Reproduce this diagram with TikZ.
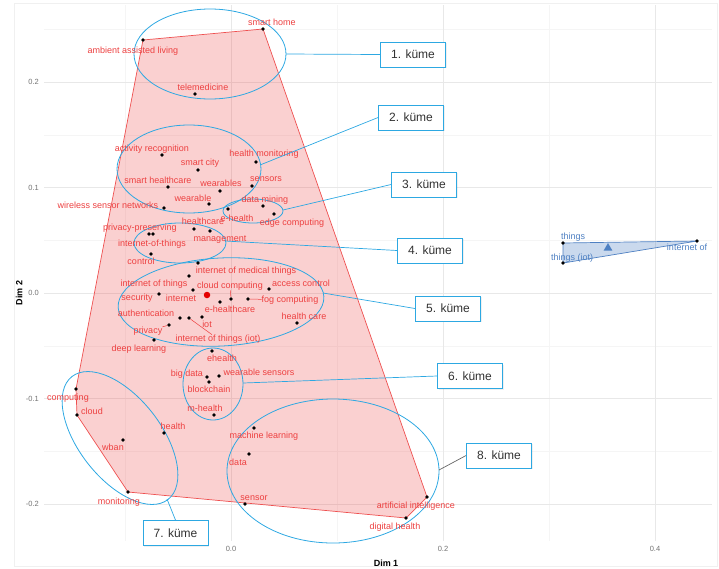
\documentclass[tikz,border=0pt]{standalone}
\usepackage{fontspec}
\setmainfont{Liberation Sans}
\usetikzlibrary{shapes.geometric,shadows}

\definecolor{labred}{RGB}{236,64,64}
\definecolor{hullred}{RGB}{238,80,80}
\definecolor{grpblue}{RGB}{78,128,194}
\definecolor{kumeblue}{RGB}{45,168,226}
\definecolor{kumetext}{RGB}{50,50,50}

\begin{document}
\begin{tikzpicture}[x=1pt, y=-1pt,
  pt/.style={circle, fill=black, inner sep=0pt, minimum size=3.6pt},
  lab/.style={text=labred, font=\fontsize{9}{9}\selectfont, inner sep=0pt, text height=6.5pt, text depth=1.9pt},
  blab/.style={lab, text=grpblue},
  kume/.style={draw=kumeblue, fill=white, line width=0.9pt, minimum width=65pt, minimum height=25pt,
    font=\fontsize{12}{12}\selectfont, text=kumetext, inner sep=0pt,
    drop shadow={opacity=0.12, shadow xshift=1pt, shadow yshift=-1pt}},
  ell/.style={draw=kumeblue, line width=0.8pt},
  link/.style={draw=kumeblue, line width=0.7pt},
  lead/.style={draw=labred, line width=0.5pt},
  gmajor/.style={draw=black!9, line width=0.6pt},
  gminor/.style={draw=black!4, line width=0.5pt},
  tick/.style={font=\fontsize{7.5}{7.5}\selectfont, text=black!55, inner sep=0pt}
]
\useasboundingbox (0,0) rectangle (719,568);
\draw[black!6, line width=0.4pt] (14,3) rectangle (717,566);

% grid
\foreach \x in {125,337,549} \draw[gminor] (\x,5) -- (\x,541);
\foreach \y in {29.25,134.75,240.25,345.75,451.25} \draw[gminor] (44,\y) -- (712,\y);
\foreach \x in {231,443,655} \draw[gmajor] (\x,5) -- (\x,541);
\foreach \y in {82,187.5,293,398.5,504} \draw[gmajor] (44,\y) -- (712,\y);

% axes
\foreach \y/\t in {82/0.2,187.5/0.1,293/0.0,398.5/-0.1,504/-0.2}
  \node[tick, anchor=east] (ty\t) at (39,\y) {\t};
\foreach \x/\t in {231/0.0,443/0.2,655/0.4}
  \node[tick] (tx\t) at (\x,549) {\t};
\node[font=\bfseries\fontsize{9}{9}\selectfont] (xname) at (386,563) {Dim 1};
\node[font=\bfseries\fontsize{9}{9}\selectfont, rotate=90] (yname) at (19,293) {Dim 2};

% hulls
\filldraw[fill=hullred, fill opacity=0.27, draw=hullred, line width=0.7pt]
  (143,40) -- (263,29) -- (427,497) -- (406,518) -- (128,492) -- (77,415) -- (76,389) -- cycle;
\filldraw[fill=grpblue, fill opacity=0.3, draw=grpblue, line width=0.7pt]
  (563,243) -- (697,241) -- (563,263) -- cycle;

% cluster ellipses
\draw[ell] (210,54) ellipse (76 and 45);
\draw[ell] (189,169) ellipse (72 and 44);
\draw[ell] (253,211) ellipse (30 and 12);
\draw[ell] (180,243) ellipse (46 and 20);
\draw[ell, rotate around={3:(221,302)}] (221,302) ellipse (103 and 44);
\draw[ell] (213,384) ellipse (30 and 36);
\draw[ell, rotate around={-52:(120,438)}] (120,438) ellipse (78 and 41);
\draw[ell] (333,471) ellipse (106 and 72);

% 1. kume
\node[pt] (smarthome) at (263,29) {};
\node[pt] (aal) at (143,40) {};
\node[pt] (telemed) at (195,94) {};
\node[lab] (smarthome-l) at (272,23) {smart home};
\node[lab] (aal-l) at (133,51) {ambient assisted living};
\node[lab] (telemed-l) at (203,88) {telemedicine};

% 2. kume
\node[pt] (actrec) at (162,155) {};
\node[pt] (smartcity) at (198,170) {};
\node[pt] (healthmon) at (256,162) {};
\node[pt] (smarthc) at (168,187) {};
\node[pt] (wearables) at (220,191) {};
\node[pt] (sensors) at (252,186) {};
\node[pt] (wearable) at (209,204) {};
\node[pt] (wsn) at (164,208) {};
\node[lab] (actrec-l) at (152,149) {activity recognition};
\node[lab] (smartcity-l) at (200,163) {smart city};
\node[lab] (healthmon-l) at (264,154) {health monitoring};
\node[lab] (smarthc-l) at (158,181) {smart healthcare};
\node[lab] (wearables-l) at (221,184) {wearables};
\node[lab] (sensors-l) at (266,179) {sensors};
\node[lab] (wearable-l) at (193,199) {wearable};
\node[lab] (wsn-l) at (108,206) {wireless sensor networks};

% 3. kume
\node[pt] (datamining) at (263,206) {};
\node[pt] (ehealth) at (228,209) {};
\node[pt] (edge) at (274,214) {};
\node[lab] (datamining-l) at (265,200) {data mining};
\node[lab] (ehealth-l) at (237,219) {e-health};
\node[lab] (edge-l) at (292,223) {edge computing};

% 4. kume
\node[pt] (healthcare) at (194,229) {};
\node[pt] (management) at (210,231) {};
\node[pt] (privpres) at (149,234) {};
\node[pt] (iotdash) at (153,234) {};
\node[pt] (control) at (151,254) {};
\node[lab] (healthcare-l) at (203,222) {healthcare};
\node[lab] (management-l) at (220,239) {management};
\node[lab] (privpres-l) at (140,228) {privacy-preserving};
\node[lab] (iotdash-l) at (152,244) {internet-of-things};
\node[lab] (control-l) at (141,262) {control};

% 5. kume
\node[pt] (iomt) at (198,263) {};
\node[pt] (iotsp) at (189,276) {};
\node[pt] (internet) at (193,290) {};
\node[pt] (cloudcomp) at (231,299) {};
\node[pt] (ehc) at (220,302) {};
\node[pt] (fog) at (248,299) {};
\node[pt] (access) at (269,289) {};
\node[pt] (security) at (159,294) {};
\node[pt] (auth) at (180,318) {};
\node[pt] (iotiot) at (189,318) {};
\node[pt] (iot) at (202,317) {};
\node[pt] (privacy) at (169,325) {};
\node[pt] (healthcare2) at (297,323) {};
\node[pt] (deep) at (154,340) {};
\node[circle, fill=red!90!black, inner sep=0pt, minimum size=6.5pt] (mean) at (207,295) {};
\node[lab] (iomt-l) at (246,271) {internet of medical things};
\node[lab] (iotsp-l) at (154,284) {internet of things};
\node[lab] (internet-l) at (181,299) {internet};
\node[lab] (cloudcomp-l) at (230,286) {cloud computing};
\node[lab] (ehc-l) at (230,310) {e-healthcare};
\node[lab] (fog-l) at (290,300) {fog computing};
\node[lab] (access-l) at (301,284) {access control};
\node[lab] (security-l) at (137,298) {security};
\node[lab] (auth-l) at (146,314) {authentication};
\node[lab] (iotiot-l) at (218,339) {internet of things (iot)};
\node[lab] (iot-l) at (207,325) {iot};
\node[lab] (privacy-l) at (148,331) {privacy};
\node[lab] (healthcare2-l) at (304,317) {health care};
\node[lab] (deep-l) at (139,349) {deep learning};
\draw[lead] (cloudcomp-l) -- (cloudcomp);
\draw[lead] (fog-l) -- (fog);
\draw[lead] (iotiot-l) -- (iotiot);
\draw[lead] (privacy-l) -- (privacy);

% 6. kume
\node[pt] (ehealth2) at (212,351) {};
\node[pt] (bigdata) at (207,377) {};
\node[pt] (blockchain) at (209,382) {};
\node[pt] (wearsens) at (219,376) {};
\node[pt] (mhealth) at (214,415) {};
\node[lab] (ehealth2-l) at (222,359) {ehealth};
\node[lab] (bigdata-l) at (187,374) {big data};
\node[lab] (blockchain-l) at (209,390) {blockchain};
\node[lab] (wearsens-l) at (259,373) {wearable sensors};
\node[lab] (mhealth-l) at (205,409) {m-health};

% 7. kume
\node[pt] (computing) at (76,389) {};
\node[pt] (cloud) at (77,415) {};
\node[pt] (health) at (164,433) {};
\node[pt] (wban) at (123,440) {};
\node[pt] (monitoring) at (128,492) {};
\node[lab] (computing-l) at (68,398) {computing};
\node[lab] (cloud-l) at (92,412) {cloud};
\node[lab] (health-l) at (173,427) {health};
\node[lab] (wban-l) at (113,448) {wban};
\node[lab] (monitoring-l) at (119,502) {monitoring};

% 8. kume
\node[pt] (ml) at (254,428) {};
\node[pt] (data) at (249,454) {};
\node[pt] (sensor) at (245,504) {};
\node[pt] (ai) at (427,497) {};
\node[pt] (digital) at (406,518) {};
\node[lab] (ml-l) at (264,436) {machine learning};
\node[lab] (data-l) at (238,463) {data};
\node[lab] (sensor-l) at (254,498) {sensor};
\node[lab] (ai-l) at (416,506) {artificial intelligence};
\node[lab] (digital-l) at (395,527) {digital health};

% second group
\node[pt] (things) at (563,243) {};
\node[pt] (thingsiot) at (563,263) {};
\node[pt] (internetof) at (697,241) {};
\node[regular polygon, regular polygon sides=3, fill=grpblue, inner sep=0pt, minimum size=10pt] (centroid) at (608,248) {};
\node[blab] (things-l) at (573,237) {things};
\node[blab] (thingsiot-l) at (572,258) {things (iot)};
\node[blab] (internetof-l) at (687,248) {internet of};

% callouts
\coordinate (k1) at (286,54);
\coordinate (k2) at (260,165);
\coordinate (k3) at (283,210);
\coordinate (k4) at (225,241);
\coordinate (k5) at (323,293);
\coordinate (k6) at (243,383);
\coordinate (k7) at (167,499);
\coordinate (k8) at (439,470);
\node[kume] (box1) at (413,54.5) {1. küme};
\node[kume] (box2) at (411,117.5) {2. küme};
\node[kume] (box3) at (424,184.5) {3. küme};
\node[kume] (box4) at (430,250.5) {4. küme};
\node[kume] (box5) at (448,308.5) {5. küme};
\node[kume] (box6) at (470,376) {6. küme};
\node[kume] (box7) at (175.5,533) {7. küme};
\node[kume] (box8) at (499,455.5) {8. küme};
\draw[link] (k1) -- (box1.west);
\draw[link] (k2) -- (box2.west);
\draw[link] (k3) -- (box3.west);
\draw[link] (k4) -- (box4.west);
\draw[link] (k5) -- (box5.west);
\draw[link] (k6) -- (box6.west);
\draw[link] (k7) -- (box7.north);
\draw[black!60, line width=0.7pt] (k8) -- (box8.west);
\end{tikzpicture}
\end{document}
